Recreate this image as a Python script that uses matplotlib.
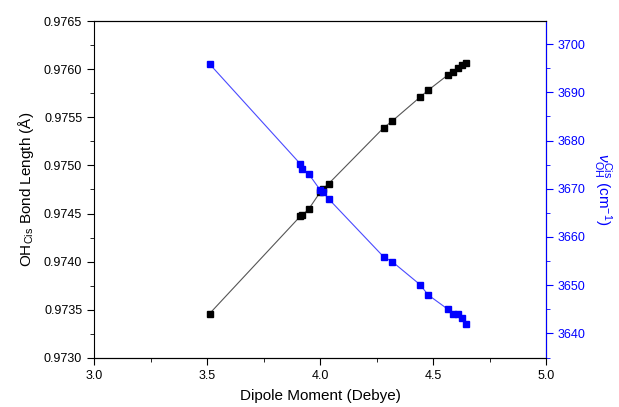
import matplotlib
matplotlib.use('Agg')
import matplotlib.pyplot as plt
from matplotlib.ticker import MultipleLocator, FormatStrFormatter

plt.rcParams['font.family'] = ['Liberation Sans', 'DejaVu Sans']
plt.rcParams['mathtext.fontset'] = 'custom'
plt.rcParams['mathtext.rm'] = 'Liberation Sans'
plt.rcParams['mathtext.it'] = 'Liberation Sans:italic'

# dipole moment (Debye)
dipole = [3.511, 3.912, 3.920, 3.951, 4.000, 4.011, 4.038, 4.281, 4.319,
          4.443, 4.478, 4.566, 4.588, 4.609, 4.629, 4.646]
# OH cis bond length (angstrom)
bond_len = [0.97346, 0.97447, 0.97448, 0.97455, 0.97472, 0.97475, 0.97481,
            0.97539, 0.97546, 0.97571, 0.97578, 0.97594, 0.97597, 0.97601,
            0.97604, 0.97606]
# OH cis stretching frequency (cm-1)
freq = [3695.9, 3675.2, 3674.1, 3673.0, 3669.8, 3669.4, 3667.9, 3655.9,
        3654.9, 3650.1, 3648.0, 3645.0, 3644.0, 3644.0, 3643.1, 3642.0]

fig = plt.figure(figsize=(6.19, 4.07), dpi=100)
ax = fig.add_axes([0.1519, 0.1204, 0.7302, 0.8280])
ax2 = ax.twinx()

ax.plot(dipole, bond_len, color='#555555', lw=0.8, marker='s', ms=5,
        mfc='black', mec='black', zorder=3)
ax2.plot(dipole, freq, color='#4a4aff', lw=0.8, marker='s', ms=5,
         mfc='blue', mec='blue', zorder=3)

ax.set_xlim(3.0, 5.0)
ax.set_ylim(0.9730, 0.9765)
ax2.set_ylim(3634.9, 3704.8)

ax.xaxis.set_major_locator(MultipleLocator(0.5))
ax.xaxis.set_minor_locator(MultipleLocator(0.25))
ax.xaxis.set_major_formatter(FormatStrFormatter('%.1f'))
ax.yaxis.set_major_locator(MultipleLocator(0.0005))
ax.yaxis.set_minor_locator(MultipleLocator(0.00025))
ax.yaxis.set_major_formatter(FormatStrFormatter('%.4f'))
ax2.yaxis.set_major_locator(MultipleLocator(10))
ax2.yaxis.set_minor_locator(MultipleLocator(5))

ax.tick_params(which='both', direction='out', labelsize=9, top=False, right=False)
ax.tick_params(which='major', length=5)
ax.tick_params(which='minor', length=3)
ax2.tick_params(which='both', direction='out', labelsize=9, colors='blue')
ax2.tick_params(which='major', length=5)
ax2.tick_params(which='minor', length=3)
ax2.spines['right'].set_color('blue')
ax2.spines['left'].set_visible(False)

ax.set_xlabel('Dipole Moment (Debye)', fontsize=11, labelpad=5)
ax.set_ylabel(r'OH$_{\mathrm{Cis}}$ Bond Length (Å)', fontsize=11, labelpad=6)
ax2.set_ylabel(r'$\nu^{\mathrm{Cis}}_{\mathrm{OH}}$ (cm$^{-1}$)', fontsize=11,
               color='blue', rotation=-90, labelpad=20)

fig.savefig('out.png', dpi=100)
